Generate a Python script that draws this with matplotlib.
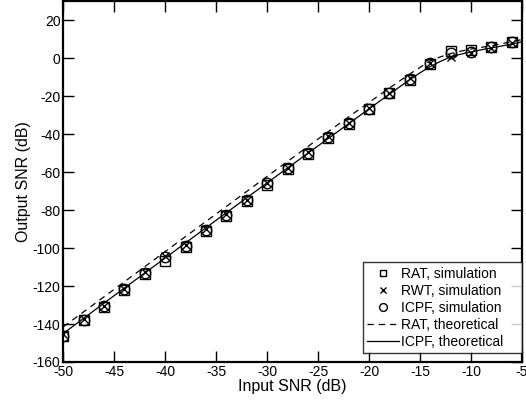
import matplotlib
matplotlib.use("Agg")
import matplotlib.pyplot as plt

plt.rcParams['font.family'] = ['Liberation Sans', 'DejaVu Sans']

# Simulation points
x_sim = [-50, -48, -46, -44, -42, -40, -38, -36, -34, -32, -30, -28, -26, -24,
         -22, -20, -18, -16, -14, -12, -10, -8, -6]
rat_sim = [-146.5, -138, -131, -122, -113.8, -106.8, -99.4, -90.8, -83, -75, -66.8,
           -58.2, -50.2, -42.2, -34.5, -26.8, -18.4, -11.3, -2.9, 3.8, 4.6, 5.8, 8.5]
rwt_sim = [-145.5, -137.5, -130.5, -121.3, -112.5, -104.2, -98.5, -90, -82, -74.4, -65.6,
           -57.6, -49.5, -41, -34, -26.2, -18, -10.6, -2.4, 0.5, 3, 5.7, 8]
icpf_sim = [-146.5, -137.8, -130.7, -121.8, -113, -104.8, -99, -90.3, -82.5, -74.7, -65.8,
            -57.9, -49.8, -41.4, -34.2, -26.5, -18.2, -11, -2.7, 2.7, 3.2, 5.8, 8.6]

# Theoretical curves
x_rat_th = [-50, -45, -40, -35, -30, -25, -22, -20, -18, -16, -14, -13, -12, -11,
            -10, -9, -8, -7, -6, -5]
rat_th = [-141.5, -121.7, -101.8, -82, -62.2, -42.5, -30.8, -23.2, -15.6, -8.2, -1.3,
          0.8, 2.5, 3.8, 4.9, 5.8, 6.7, 7.7, 8.8, 9.9]
x_icpf_th = [-50, -45, -40, -35, -30, -28, -26, -24, -22, -20, -19, -18, -17, -16,
             -15, -14, -13, -12, -11, -10, -9, -8, -7, -6, -5]
icpf_th = [-145, -125, -105.2, -85.3, -65.6, -57.8, -50, -42.2, -34.4, -26.6, -22.7,
           -18.9, -15, -11.2, -7.6, -4.3, -1.6, 0.8, 2.2, 3.4, 4.5, 5.5, 6.5, 7.6, 8.7]

x_ticks = [-50, -45, -40, -35, -30, -25, -20, -15, -10, -5]
y_ticks = [-160, -140, -120, -100, -80, -60, -40, -20, 0, 20]

fig = plt.figure(figsize=(5.26, 4.09), dpi=100)
ax = fig.add_axes([0.1203, 0.115, 0.8721, 0.8815])

ax.plot(x_sim, rat_sim, linestyle='none', marker='s', markersize=6.5,
        markerfacecolor='none', markeredgecolor='black', markeredgewidth=1.0,
        label='RAT, simulation')
ax.plot(x_sim, rwt_sim, linestyle='none', marker='x', markersize=6,
        color='black', markeredgewidth=1.0, label='RWT, simulation')
ax.plot(x_sim, icpf_sim, linestyle='none', marker='o', markersize=7.5,
        markerfacecolor='none', markeredgecolor='black', markeredgewidth=1.0,
        label='ICPF, simulation')
ax.plot(x_rat_th, rat_th, color='black', linestyle=(0, (5, 4)), linewidth=0.9,
        label='RAT, theoretical')
ax.plot(x_icpf_th, icpf_th, color='black', linestyle='-', linewidth=0.9,
        label='ICPF, theoretical')

ax.set_xlim(-50, -5)
ax.set_ylim(-160, 30)
ax.set_xticks(x_ticks)
ax.set_yticks(y_ticks)
ax.set_xticklabels([str(v) for v in x_ticks])
ax.set_yticklabels([str(v) for v in y_ticks])
ax.tick_params(direction='in', length=8, width=1.0, top=True, right=True,
               labelsize=10, pad=2, colors='black')
for s in ax.spines.values():
    s.set_linewidth(1.6)

ax.set_xlabel('Input SNR (dB)', fontsize=11.5, labelpad=0)
ax.set_ylabel('Output SNR (dB)', fontsize=11.5, labelpad=1)

x0 = 0.653
leg = ax.legend(loc='lower left', bbox_to_anchor=(x0, 0.025, 0.999 - x0, 0.2),
                mode='expand', borderaxespad=0,
                fontsize=10, frameon=True, fancybox=False, handlelength=2.3,
                handletextpad=0.15, labelspacing=0.22, borderpad=0.3,
                markerscale=0.75)
leg.get_frame().set_edgecolor('black')
leg.get_frame().set_linewidth(1.0)

fig.savefig('out.png', dpi=100)
